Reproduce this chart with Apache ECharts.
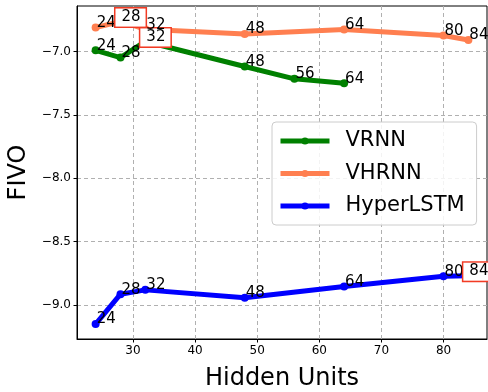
<!DOCTYPE html>
<html>
<head>
<meta charset="utf-8">
<script src="https://cdn.jsdelivr.net/npm/echarts@6/dist/echarts.min.js"></script>
<style>
  html, body { margin: 0; padding: 0; background: #fff; }
  #chart { width: 488px; height: 392px; }
</style>
</head>
<body>
<div id="chart"></div>
<script>
// Hidden units per model and the FIVO score reached at each size
const hiddenVRNN = [24, 28, 32, 48, 56, 64];
const fivoVRNN = [-6.99, -7.047, -6.92, -7.118, -7.215, -7.25];

const hiddenVHRNN = [24, 28, 32, 48, 64, 80, 84];
const fivoVHRNN = [-6.81, -6.763, -6.823, -6.862, -6.825, -6.873, -6.908];

const hiddenHyper = [24, 28, 32, 48, 64, 80, 84];
const fivoHyper = [-9.152, -8.916, -8.882, -8.945, -8.856, -8.775, -8.77];

// Axis tick positions
const xTicks = [30, 40, 50, 60, 70, 80];
const yTicks = [-9.0, -8.5, -8.0, -7.5, -7.0];

// Points whose annotation is framed
const framed = { 'VRNN': [32], 'VHRNN': [28], 'HyperLSTM': [84] };

const FONT = 'DejaVu Sans';
const fmtNum = v => (v < 0 ? '\u2212' : '') + Math.abs(v).toFixed(1);
const LABEL_PAD = [1, 5, 2, 6];

function buildSeries(name, color, xs, ys) {
  const boxed = framed[name] || [];
  return {
    name: name,
    type: 'line',
    data: xs.map((x, i) => [x, ys[i]]),
    color: color,
    symbol: 'circle',
    symbolSize: 8,
    showSymbol: true,
    lineStyle: { width: 5, color: color },
    itemStyle: { color: color },
    emphasis: { disabled: true },
    label: {
      show: true,
      // anchor the text just right of the point, baseline on the point
      position: [-1, 9],
      align: 'left',
      verticalAlign: 'bottom',
      formatter: p => (boxed.indexOf(p.value[0]) >= 0 ? '{b|' : '{p|') + p.value[0] + '}',
      rich: {
        b: {
          fontFamily: FONT, fontSize: 15, color: '#000',
          backgroundColor: '#fff', borderColor: '#f23b24', borderWidth: 1.5,
          padding: LABEL_PAD
        },
        p: { fontFamily: FONT, fontSize: 15, color: '#000', padding: LABEL_PAD }
      }
    },
    labelLayout: { hideOverlap: false },
    animation: false
  };
}

const chart = echarts.init(document.getElementById('chart'), null, { renderer: 'canvas' });

chart.setOption({
  animation: false,
  backgroundColor: '#fff',
  grid: {
    left: 77, right: 1, top: 6, bottom: 53,
    outerBoundsMode: 'none',
    containLabel: false,
    show: true, borderColor: '#000', borderWidth: 1, backgroundColor: 'transparent'
  },
  legend: {
    left: 272, top: 122,
    orient: 'vertical',
    padding: [7, 12, 7, 6],
    itemWidth: 49,
    itemHeight: 9,
    itemGap: 8.5,
    lineStyle: { width: 5 },
    backgroundColor: 'rgba(255,255,255,0.85)',
    borderColor: '#cccccc',
    borderWidth: 1,
    borderRadius: 4,
    textStyle: { fontFamily: FONT, fontSize: 21, color: '#000', padding: [0, 0, 0, 11], lineHeight: 24 },
    data: ['VRNN', 'VHRNN', 'HyperLSTM']
  },
  xAxis: {
    type: 'value',
    min: 21, max: 87,
    name: 'Hidden Units',
    nameLocation: 'middle',
    nameGap: 28,
    nameTextStyle: { fontFamily: FONT, fontSize: 24, color: '#000' },
    axisLine: { show: true, lineStyle: { color: '#000', width: 1 } },
    axisTick: { show: true, length: 3.5, customValues: xTicks, lineStyle: { color: '#000' } },
    axisLabel: { customValues: xTicks, fontFamily: FONT, fontSize: 12, color: '#000', margin: 6 },
    splitLine: { show: true, lineStyle: { color: '#b0b0b0', type: [4, 3], width: 1 } }
  },
  yAxis: {
    type: 'value',
    min: -9.27, max: -6.64,
    name: 'FIVO',
    nameLocation: 'middle',
    nameGap: 45,
    nameTextStyle: { fontFamily: FONT, fontSize: 24, color: '#000' },
    axisLine: { show: true, lineStyle: { color: '#000', width: 1 } },
    axisTick: { show: true, length: 3.5, customValues: yTicks, lineStyle: { color: '#000' } },
    axisLabel: { customValues: yTicks, formatter: v => fmtNum(v), fontFamily: FONT, fontSize: 12, color: '#000', margin: 6 },
    splitLine: { show: true, lineStyle: { color: '#b0b0b0', type: [4, 3], width: 1 } }
  },
  series: [
    buildSeries('VRNN', '#008000', hiddenVRNN, fivoVRNN),
    buildSeries('VHRNN', '#ff7f50', hiddenVHRNN, fivoVHRNN),
    buildSeries('HyperLSTM', '#0000ff', hiddenHyper, fivoHyper)
  ]
});
</script>
</body>
</html>
